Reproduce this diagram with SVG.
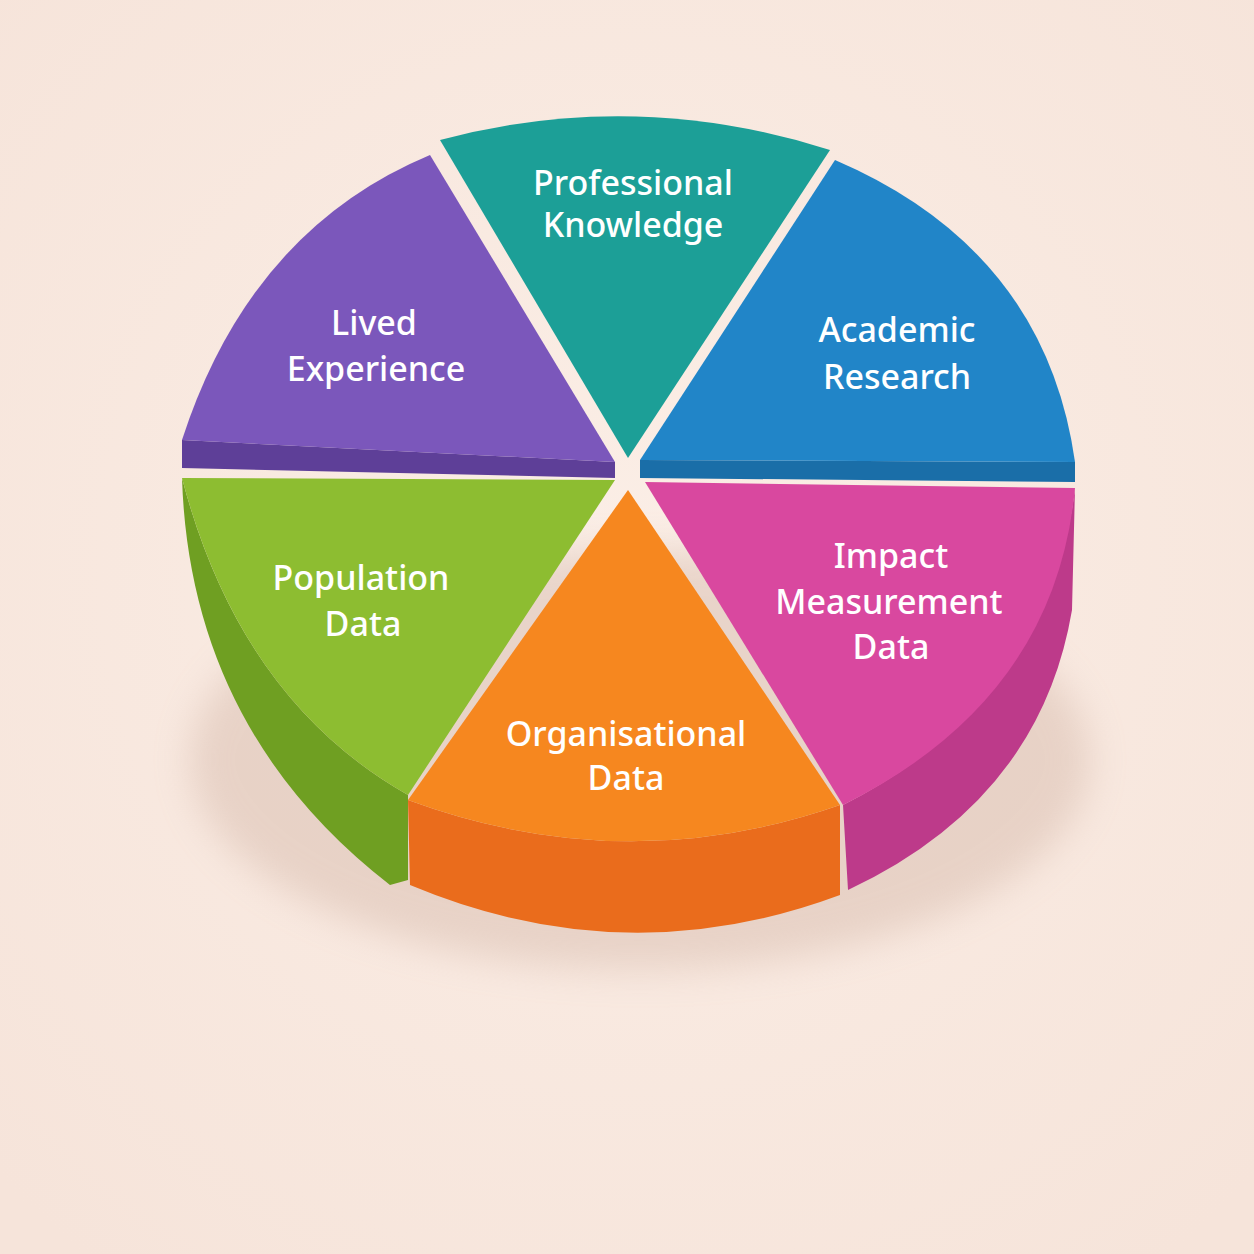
<svg xmlns="http://www.w3.org/2000/svg" width="1254" height="1254" viewBox="0 0 1254 1254">
<defs>
<style>
text{font-family:"Noto Sans","Open Sans",sans-serif;font-size:34px;fill:#fff;text-anchor:middle;font-weight:500}
</style>
<radialGradient id="bg" cx="0.5" cy="0.45" r="0.7"><stop offset="0" stop-color="#fbeee6"/><stop offset="1" stop-color="#f6e4da"/></radialGradient>
<filter id="blur" x="-20%" y="-20%" width="140%" height="140%"><feGaussianBlur stdDeviation="18"/></filter>
</defs>
<rect width="1254" height="1254" fill="url(#bg)"/>
<ellipse cx="640" cy="760" rx="450" ry="210" fill="#c9a898" opacity="0.35" filter="url(#blur)"/>
<g id="lived-experience">
<path d="M182,440 L615,462 L615,478 L182,468 Z" fill="#5e3f98"/>
<path d="M615,462 L430,155 Q250,230 182,440 Z" fill="#7b57bb"/>
<text x="374" y="335">Lived</text><text x="376" y="381">Experience</text>
</g>
<g id="professional-knowledge">
<path d="M628,458 L440,140 Q635,88 830,150 Z" fill="#1c9f97"/>
<text x="633" y="195">Professional</text><text x="633" y="237">Knowledge</text>
</g>
<g id="academic-research">
<path d="M640,460 L1075,462 L1075,482 L640,478 Z" fill="#1a6ea8"/>
<path d="M640,460 L835,160 Q1045,250 1075,462 Z" fill="#2185c8"/>
<text x="897" y="342">Academic</text><text x="897" y="389">Research</text>
</g>
<g id="population-data">
<path d="M182,478 Q190,730 390,885 L408,880 L408,795 Q240,700 182,478 Z" fill="#6f9f22"/>
<path d="M182,478 L615,480 L408,795 Q240,700 182,478 Z" fill="#8dbd31"/>
<text x="361" y="590">Population</text><text x="363" y="636">Data</text>
</g>
<g id="impact-measurement-data">
<path d="M843,805 Q1050,700 1075,488 L1072,610 Q1040,800 848,890 Z" fill="#bd3a8a"/>
<path d="M645,482 L1075,488 Q1055,700 843,805 Z" fill="#d9489f"/>
<text x="891" y="568">Impact</text><text x="889" y="614">Measurement</text><text x="891" y="659">Data</text>
</g>
<g id="organisational-data">
<path d="M408,800 Q625,880 840,805 L840,895 Q625,975 410,885 Z" fill="#ea6c1c"/>
<path d="M628,490 L840,805 Q625,880 408,800 Z" fill="#f6871f"/>
<text x="626" y="746">Organisational</text><text x="626" y="790">Data</text>
</g>
<g id="connectors"/>
</svg>
